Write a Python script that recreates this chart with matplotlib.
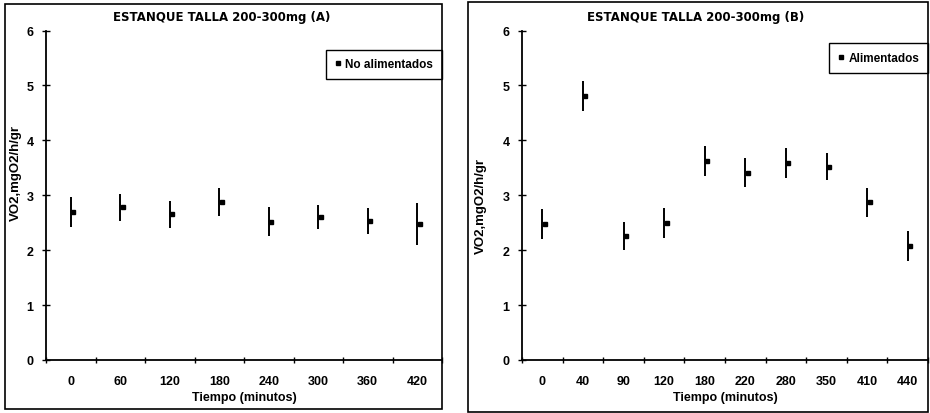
import matplotlib
matplotlib.use("Agg")
import matplotlib.pyplot as plt
from matplotlib.lines import Line2D
from matplotlib.patches import Rectangle
import matplotlib.transforms as mtransforms

# Panel A: fish not fed
tiempos_a = ["0", "60", "120", "180", "240", "300", "360", "420"]
vo2_a = [2.70, 2.78, 2.65, 2.88, 2.52, 2.60, 2.53, 2.48]
err_a = [0.27, 0.25, 0.25, 0.25, 0.27, 0.22, 0.23, 0.38]

# Panel B: fed fish
tiempos_b = ["0", "40", "90", "120", "180", "220", "280", "350", "410", "440"]
vo2_b = [2.48, 4.81, 2.26, 2.50, 3.62, 3.41, 3.59, 3.52, 2.87, 2.08]
err_b = [0.27, 0.27, 0.26, 0.27, 0.27, 0.26, 0.27, 0.25, 0.27, 0.27]

titulo_a = "ESTANQUE TALLA 200-300mg (A)"
titulo_b = "ESTANQUE TALLA 200-300mg (B)"
serie_a = "No alimentados"
serie_b = "Alimentados"

plt.rcParams["font.family"] = ["Liberation Sans", "DejaVu Sans"]
plt.rcParams["font.weight"] = "bold"

W, H = 930, 414
fig = plt.figure(figsize=(W / 100, H / 100), dpi=100)


def fx(px):
    return px / W


def fy(py):
    return 1 - py / H


def panel(rect_px, frame_px, labels, vals, errs, title, serie, leg_anchor,
          ylabel_xy):
    x0, y_top, x1, y_bot = rect_px
    ax = fig.add_axes([fx(x0), fy(y_bot), fx(x1 - x0), (y_bot - y_top) / H])
    n = len(labels)
    xs = list(range(n))

    ax.errorbar(xs, vals, yerr=errs, fmt="none", ecolor="black",
                elinewidth=1.4, capsize=0, zorder=3)
    shift = mtransforms.offset_copy(ax.transData, fig=fig, x=2.5, y=0,
                                    units="dots")
    ax.plot(xs, vals, linestyle="none", marker="s", markersize=3.4,
            color="black", transform=shift, zorder=4)

    ax.set_xlim(-0.5, n - 0.5)
    ax.set_ylim(0, 6)
    ax.set_xticks(xs)
    ax.set_xticklabels(labels, fontsize=9, fontweight="bold")
    ax.set_xticks([i - 0.5 for i in range(n + 1)], minor=True)
    ax.tick_params(axis="x", which="major", length=0, pad=11)
    ax.tick_params(axis="x", which="minor", length=5, direction="inout",
                   width=1)
    ax.set_yticks(range(0, 7))
    ax.set_yticklabels([str(v) for v in range(0, 7)], fontsize=9,
                       fontweight="bold")
    ax.tick_params(axis="y", length=6, direction="inout", width=1, pad=6)

    for s in ("top", "right"):
        ax.spines[s].set_visible(False)
    for s in ("left", "bottom"):
        ax.spines[s].set_linewidth(1.3)

    ax.set_xlabel("Tiempo (minutos)", fontsize=9, fontweight="bold",
                  labelpad=3)
    ax.set_ylabel("VO2,mgO2/h/gr", fontsize=9.5, fontweight="bold")
    ax.yaxis.set_label_coords(*ylabel_xy)

    fl, ft, fr, fb = frame_px
    fig.patches.append(Rectangle((fx(fl), fy(fb)), fx(fr - fl),
                                 (fb - ft) / H, transform=fig.transFigure,
                                 fill=False, edgecolor="black",
                                 linewidth=1.2))
    fig.text(fx((fl + fr) / 2 - 2), fy(18), title, ha="center", va="center",
             fontsize=8.5, fontweight="bold", family="DejaVu Sans")

    handle = Line2D([], [], linestyle="none", marker="s", markersize=3.4,
                    color="black")
    leg = ax.legend([handle], [serie], loc="upper right",
                    bbox_to_anchor=leg_anchor, borderaxespad=0,
                    fancybox=False, edgecolor="black", framealpha=1,
                    handlelength=0.6, handletextpad=0.3, borderpad=0.75,
                    prop={"size": 8.5, "weight": "bold"})
    leg.get_frame().set_linewidth(1.0)
    return ax


panel((46, 31.5, 442, 361), (5, 5, 442, 410), tiempos_a, vo2_a, err_a,
      titulo_a, serie_a, (1.0, 0.942), (-0.062, 0.57))
panel((522, 31.5, 928, 361), (468, 3, 928, 413), tiempos_b, vo2_b, err_b,
      titulo_b, serie_b, (1.0, 0.961), (-0.086, 0.47))

fig.savefig("out.png", dpi=100)
